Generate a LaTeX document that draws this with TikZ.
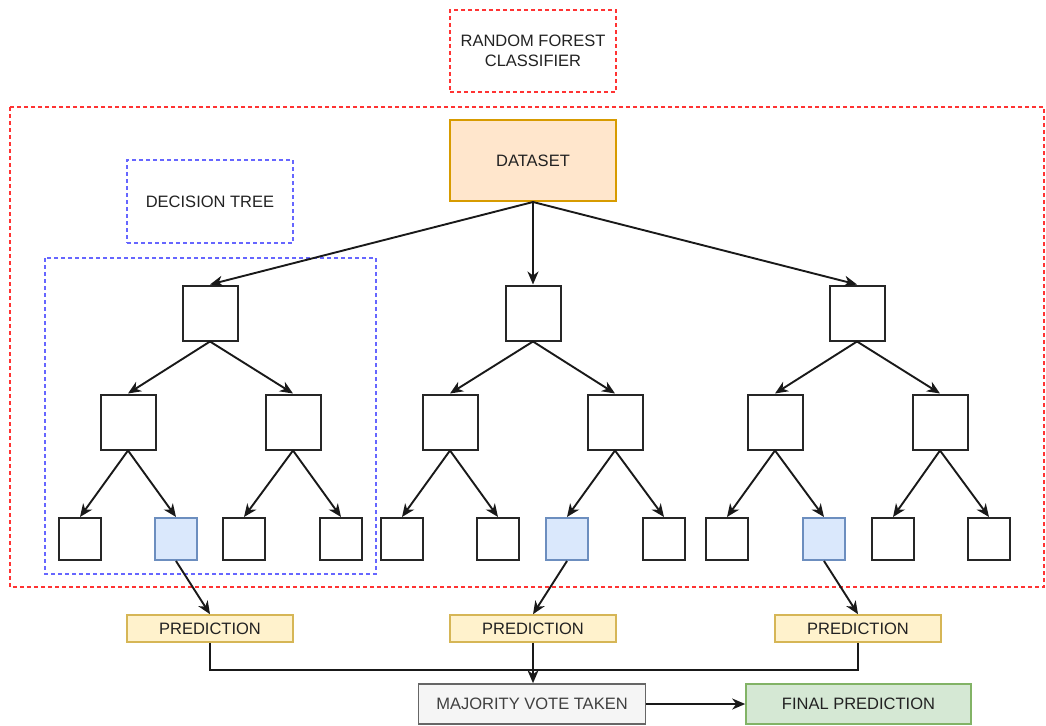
\documentclass[tikz,border=0pt]{standalone}
\usepackage{fontspec}
\setmainfont{Liberation Sans}
\usetikzlibrary{arrows.meta}
\definecolor{dsfill}{HTML}{FFE6CC}
\definecolor{dsdraw}{HTML}{D79B00}
\definecolor{prfill}{HTML}{FFF2CC}
\definecolor{prdraw}{HTML}{D6B656}
\definecolor{lfill}{HTML}{DAE8FC}
\definecolor{ldraw}{HTML}{6C8EBF}
\definecolor{mvfill}{HTML}{F5F5F5}
\definecolor{mvdraw}{HTML}{666666}
\definecolor{fpfill}{HTML}{D5E8D4}
\definecolor{fpdraw}{HTML}{82B366}
\definecolor{rfcol}{HTML}{FF3333}
\definecolor{dtcol}{HTML}{6666FF}
\definecolor{txt}{HTML}{222222}
\begin{document}
\begin{tikzpicture}[x=1pt,y=-1pt,
  font=\fontsize{16.5}{19}\selectfont, text=txt,
  sq/.style={draw=black!85, line width=2pt, minimum size=55pt, inner sep=0pt},
  leaf/.style={draw=black!85, line width=2pt, minimum size=42pt, inner sep=0pt},
  hit/.style={leaf, fill=lfill, draw=ldraw},
  arr/.style={-{Stealth[length=13pt,width=11pt,inset=4pt]}, line width=1.9pt, draw=black!90},
  line/.style={line width=1.9pt, draw=black!90},
  rfdash/.style={draw=rfcol, dash pattern=on 4pt off 3pt, line width=1.5pt},
  dtdash/.style={draw=dtcol, dash pattern=on 4pt off 3pt, line width=1.5pt},
  pred/.style={draw=prdraw, fill=prfill, line width=1.6pt, minimum width=166pt, minimum height=27pt, inner sep=0pt}
]
\useasboundingbox (0,0) rectangle (1046,725);

% frames
\draw[rfdash] (10,107) rectangle (1044,587);
\draw[dtdash] (45,258) rectangle (376,574);

% labels
\node[rfdash, minimum width=166pt, minimum height=82pt, align=center, inner sep=0pt] (rf) at (533,51) {RANDOM FOREST\\[1pt]CLASSIFIER};
\node[dtdash, minimum width=166pt, minimum height=83pt, inner sep=0pt] (dt) at (210,201.5) {DECISION TREE};

% dataset
\node[draw=dsdraw, fill=dsfill, line width=2pt, minimum width=166pt, minimum height=81pt, inner sep=0pt] (ds) at (533,160.5) {DATASET};

% roots
\node[sq] (r1) at (210,313) {};
\node[sq] (r2) at (533,313) {};
\node[sq] (r3) at (857,313) {};

% level 2
\node[sq] (a1) at (128,422) {};
\node[sq] (a2) at (293,422) {};
\node[sq] (b1) at (450,422) {};
\node[sq] (b2) at (615,422) {};
\node[sq] (c1) at (775,422) {};
\node[sq] (c2) at (940,422) {};

% leaves
\node[leaf] (a11) at (80,539) {};
\node[hit]  (a12) at (176,539) {};
\node[leaf] (a21) at (244,539) {};
\node[leaf] (a22) at (341,539) {};
\node[leaf] (b11) at (402,539) {};
\node[leaf] (b12) at (498,539) {};
\node[hit]  (b21) at (567,539) {};
\node[leaf] (b22) at (664,539) {};
\node[leaf] (c11) at (727,539) {};
\node[hit]  (c12) at (824,539) {};
\node[leaf] (c21) at (893,539) {};
\node[leaf] (c22) at (989,539) {};

% predictions
\node[pred] (p1) at (210,628.5) {PREDICTION};
\node[pred] (p2) at (533,628.5) {PREDICTION};
\node[pred] (p3) at (858,628.5) {PREDICTION};

\node[draw=mvdraw, fill=mvfill, line width=1.6pt, minimum width=227pt, minimum height=40pt, inner sep=0pt, text=black!75] (mv) at (532,704) {MAJORITY VOTE TAKEN};
\node[draw=fpdraw, fill=fpfill, line width=1.6pt, minimum width=225pt, minimum height=40pt, inner sep=0pt] (fp) at (858.5,704) {FINAL PREDICTION};
\coordinate (j) at (533,670);

% connectors
\foreach \r in {r1,r2,r3} \draw[arr] (ds.south) -- (\r.north);
\foreach \p/\x/\y in {r1/a1/a2, r2/b1/b2, r3/c1/c2} {
  \draw[arr] (\p.south) -- (\x.north);
  \draw[arr] (\p.south) -- (\y.north);
}
\foreach \p/\x/\y in {a1/a11/a12, a2/a21/a22, b1/b11/b12, b2/b21/b22, c1/c11/c12, c2/c21/c22} {
  \draw[arr] (\p.south) -- (\x.north);
  \draw[arr] (\p.south) -- (\y.north);
}
\draw[arr] (a12.south) -- (p1.north);
\draw[arr] (b21.south) -- (p2.north);
\draw[arr] (c12.south) -- (p3.north);
\draw[line] (p1.south) |- (j);
\draw[line] (p3.south) |- (j);
\draw[arr] (p2.south) -- (p2.south |- mv.north);
\draw[arr] (mv.east) -- (fp.west);
\end{tikzpicture}
\end{document}
